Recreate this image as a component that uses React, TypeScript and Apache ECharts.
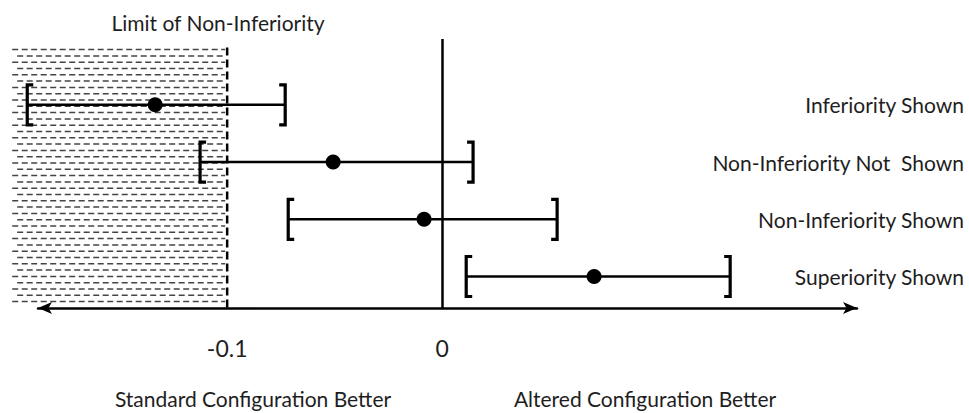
import React, { useEffect, useRef } from "react";
import * as echarts from "echarts";

// ---- data ----
const rowLabels = ["Inferiority Shown", "Non-Inferiority Not  Shown", "Non-Inferiority Shown", "Superiority Shown"];
const rowPositions = [4, 3, 2, 1];
const pointEstimates = [-0.1335, -0.0507, -0.0084, 0.0707];
const lowerBounds = [-0.193, -0.1126, -0.0716, 0.0112];
const upperBounds = [-0.073, 0.0144, 0.0535, 0.134];
const nonInferiorityMargin = -0.1;
const hatchStart = -0.2;
const tickValues = [-0.1, 0];
const tickLabels = ["-0.1", "0"];

const FONT = "Lato, 'Open Sans', sans-serif";
const TEXT = "#1e1e1e";

export default function App() {
  const ref = useRef<HTMLDivElement>(null);
  useEffect(() => {
    if (!ref.current) return;
    const chart = echarts.init(ref.current, null, { renderer: "svg" });
    const yMin = 0.45;
    const yMax = 5.15;
    const hatchTop = 5.0;
    const option: any = {
      animation: false,
      backgroundColor: "#ffffff",
      grid: { left: 38, right: 112, top: 39, bottom: 105 },
      xAxis: {
        type: "value",
        min: -0.188,
        max: 0.193,
        splitLine: { show: false },
        axisTick: { show: false },
        axisLine: {
          show: true,
          onZero: false,
          symbol: ["arrow", "arrow"],
          symbolSize: [9, 14],
          lineStyle: { color: "#000", width: 2.5 },
        },
        axisLabel: {
          customValues: tickValues,
          formatter: (v: number) => {
            const i = tickValues.findIndex((t) => Math.abs(t - v) < 1e-9);
            return i >= 0 ? tickLabels[i] : "";
          },
          margin: 28,
          fontSize: 23,
          color: TEXT,
          fontFamily: FONT,
        },
      },
      yAxis: {
        type: "value",
        position: "right",
        min: yMin,
        max: yMax,
        splitLine: { show: false },
        axisTick: { show: false },
        axisLine: { show: false },
        axisLabel: {
          customValues: rowPositions,
          formatter: (v: number) => {
            const i = rowPositions.indexOf(v);
            return i >= 0 ? rowLabels[i] : "";
          },
          align: "right",
          margin: 107,
          fontSize: 21,
          color: TEXT,
          fontFamily: FONT,
        },
      },
      series: [
        {
          type: "custom",
          name: "hatch",
          clip: false,
          silent: true,
          data: [[hatchStart, nonInferiorityMargin, yMin, hatchTop]],
          renderItem: (params: any, api: any) => {
            const tl = api.coord([api.value(0), api.value(3)]);
            const br = api.coord([api.value(1), api.value(2)]);
            const children: any[] = [];
            const step = 6.3;
            let r = 0;
            for (let y = tl[1] + 2; y < br[1] - 1; y += step, r++) {
              children.push({
                type: "line",
                shape: { x1: tl[0] + (r % 2 ? 5 : 0), y1: y, x2: br[0] - 2, y2: y },
                style: { stroke: "#444444", lineWidth: 1.5, lineDash: [6, 3.5] },
              });
            }
            children.push({
              type: "line",
              shape: { x1: br[0], y1: tl[1], x2: br[0], y2: br[1] },
              style: { stroke: "#000", lineWidth: 2.5, lineDash: [8, 4] },
            });
            return { type: "group", children };
          },
        },
        {
          type: "custom",
          name: "ci",
          clip: false,
          silent: true,
          data: rowPositions.map((p, i) => [lowerBounds[i], upperBounds[i], p]),
          renderItem: (params: any, api: any) => {
            const lo = api.coord([api.value(0), api.value(2)]);
            const hi = api.coord([api.value(1), api.value(2)]);
            const h = 20;
            const arm = 6;
            const stroke = { stroke: "#000", lineWidth: 3.2, fill: "none" };
            return {
              type: "group",
              children: [
                { type: "line", shape: { x1: lo[0], y1: lo[1], x2: hi[0], y2: hi[1] }, style: { stroke: "#000", lineWidth: 2.5 } },
                {
                  type: "polyline",
                  shape: { points: [[lo[0] + arm, lo[1] - h], [lo[0], lo[1] - h], [lo[0], lo[1] + h], [lo[0] + arm, lo[1] + h]] },
                  style: stroke,
                },
                {
                  type: "polyline",
                  shape: { points: [[hi[0] - arm, hi[1] - h], [hi[0], hi[1] - h], [hi[0], hi[1] + h], [hi[0] - arm, hi[1] + h]] },
                  style: stroke,
                },
              ],
            };
          },
          markLine: {
            silent: true,
            symbol: "none",
            label: { show: false },
            lineStyle: { color: "#000", width: 2.5, type: "solid" },
            data: [{ xAxis: 0 }],
          },
        },
        {
          type: "scatter",
          name: "estimate",
          symbol: "circle",
          symbolSize: 15,
          itemStyle: { color: "#000", opacity: 1 },
          data: rowPositions.map((p, i) => [pointEstimates[i], p]),
        },
      ],
      graphic: [
        {
          type: "text",
          x: 218,
          y: 22,
          style: { text: "Limit of Non-Inferiority", fontSize: 21, fontFamily: FONT, fill: TEXT, align: "center", verticalAlign: "middle" },
        },
        {
          type: "text",
          x: 253,
          y: 398,
          style: { text: "Standard Configuration Better", fontSize: 21, fontFamily: FONT, fill: TEXT, align: "center", verticalAlign: "middle" },
        },
        {
          type: "text",
          x: 645,
          y: 398,
          style: { text: "Altered Configuration Better", fontSize: 21, fontFamily: FONT, fill: TEXT, align: "center", verticalAlign: "middle" },
        },
      ],
    };
    chart.setOption(option);
    return () => chart.dispose();
  }, []);
  return <div ref={ref} style={{ position: "fixed", left: 0, top: 0, width: 969, height: 413 }} />;
}
